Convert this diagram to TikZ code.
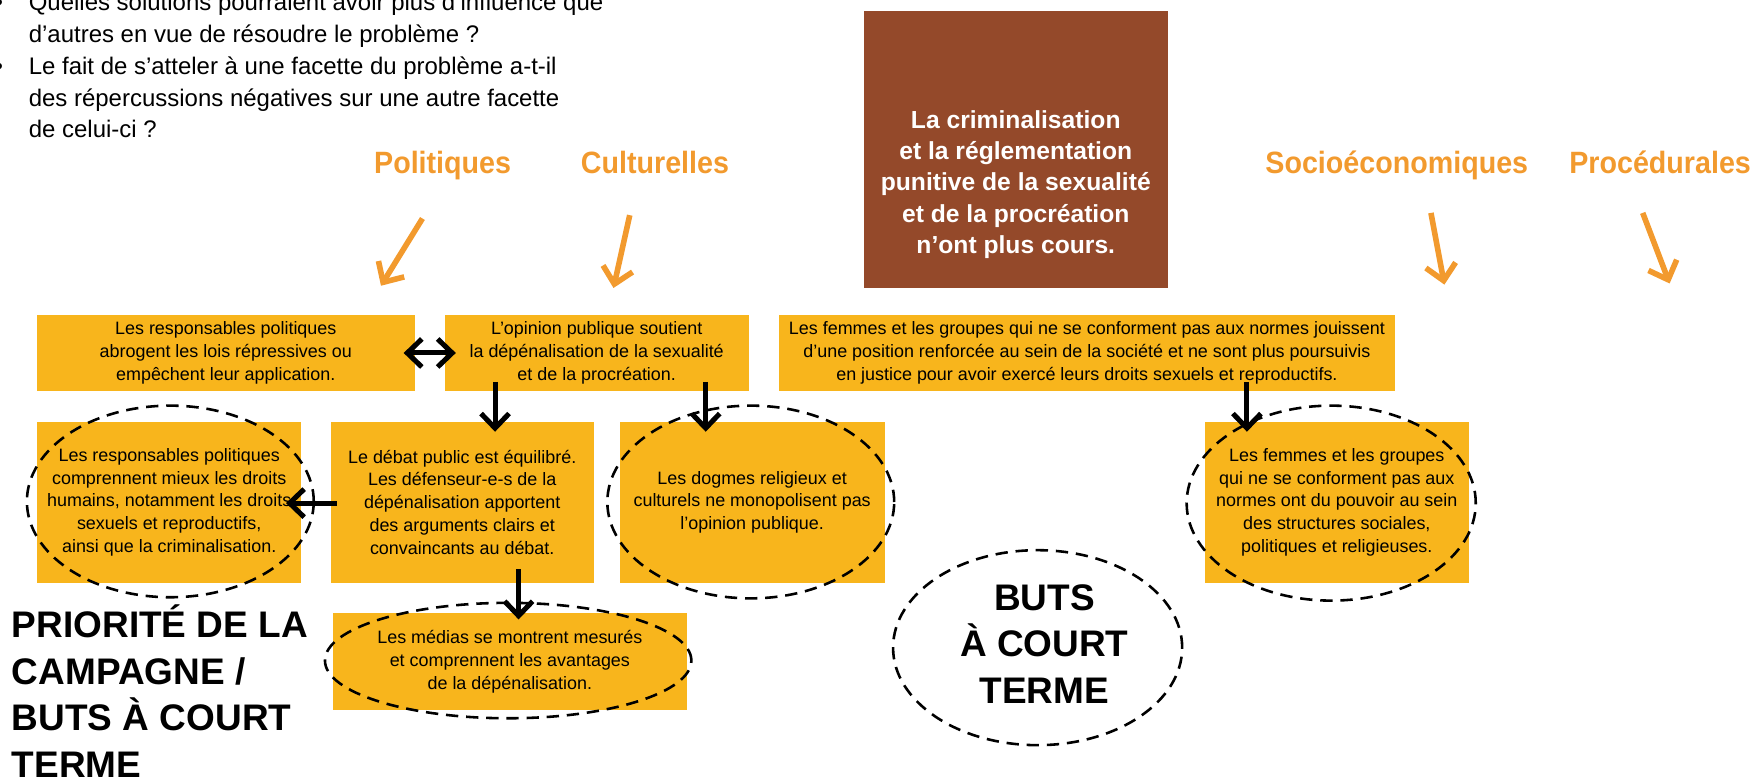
\documentclass[tikz,border=0pt]{standalone}
\usepackage{fontspec}
\setmainfont{Liberation Sans}
\newfontfamily\condfont{Liberation Sans}[FakeStretch=0.93]
\usetikzlibrary{arrows.meta,calc,shapes.geometric}
\definecolor{boxyellow}{HTML}{F8B51C}
\definecolor{labelorange}{HTML}{F29A2E}
\definecolor{brownbox}{HTML}{94492A}
\begin{document}
\begin{tikzpicture}[x=1pt,y=-1pt,
  ybox/.style={fill=boxyellow,inner sep=0pt,align=center,font=\fontsize{16}{20.4}\selectfont},
  goal/.style={ellipse,draw=black,line width=2.3pt,dash pattern=on 11pt off 7pt,inner sep=0pt},
  blkarrow/.style={draw=black,line width=4.5pt,-{Straight Barb[length=13pt,width=25pt]}},
  blkdouble/.style={draw=black,line width=4.5pt,{Straight Barb[length=13pt,width=25pt]}-{Straight Barb[length=13pt,width=25pt]}},
  orarrow/.style={draw=labelorange,line width=5pt,-{Straight Barb[length=14pt,width=27pt]}},
  cat/.style={text=labelorange,font=\condfont\bfseries\fontsize{27.5}{33}\selectfont,anchor=base,inner sep=0pt},
  qtext/.style={font=\fontsize{21.4}{28}\selectfont,anchor=base west,inner sep=0pt},
  btext/.style={text=white,font=\bfseries\fontsize{22}{28}\selectfont,anchor=base,inner sep=0pt},
  bigtext/.style={font=\bfseries\fontsize{33}{41.6}\selectfont,inner sep=0pt}]
\useasboundingbox (0,0) rectangle (1568,698);
\clip (0,0) rectangle (1568,698);

% questions at top left
\node[qtext] (d1) at (-5,9.5) {•};
\node[qtext] (q1) at (25.5,9.5) {Quelles solutions pourraient avoir plus d’influence que};
\node[qtext] (q2) at (25.5,38) {d’autres en vue de résoudre le problème ?};
\node[qtext] (d3) at (-5,66.5) {•};
\node[qtext] (q3) at (25.5,66.5) {Le fait de s’atteler à une facette du problème a-t-il};
\node[qtext] (q4) at (25.5,95) {des répercussions négatives sur une autre facette};
\node[qtext] (q5) at (25.5,123) {de celui-ci ?};

% goal box
\node[fill=brownbox,minimum width=271pt,minimum height=247pt,inner sep=0pt] (goalbox) at (906.5,133.5) {};
\node[btext] (g1) at (906.5,114.5) {La criminalisation};
\node[btext] (g2) at (906.5,142.4) {et la réglementation};
\node[btext] (g3) at (906.5,170.3) {punitive de la sexualité};
\node[btext] (g4) at (906.5,198.2) {et de la procréation};
\node[btext] (g5) at (906.5,226.1) {n’ont plus cours.};

% category labels
\node[cat] (lpol) at (395,154.7) {Politiques};
\node[cat] (lcul) at (584.5,154.7) {Culturelles};
\node[cat] (lsoc) at (1246.5,154.7) {Socioéconomiques};
\node[cat] (lpro) at (1481.5,154.7) {Procédurales};

\coordinate (o1s) at (377,195);   \coordinate (o1e) at (340,255);
\coordinate (o2s) at (562,192);   \coordinate (o2e) at (547.5,257);
\coordinate (o3s) at (1277,190);  \coordinate (o3e) at (1289,254);
\coordinate (o4s) at (1466,190);  \coordinate (o4e) at (1490,253);
\draw[orarrow] (o1s) -- (o1e);
\draw[orarrow] (o2s) -- (o2e);
\draw[orarrow] (o3s) -- (o3e);
\draw[orarrow] (o4s) -- (o4e);

% boxes row 1
\node[ybox,minimum width=337pt,minimum height=68pt] (b1) at (201.5,315)
  {Les responsables politiques\\abrogent les lois répressives ou\\empêchent leur application.};
\node[ybox,minimum width=271pt,minimum height=68pt] (b2) at (532.5,315)
  {L’opinion publique soutient\\la dépénalisation de la sexualité\\et de la procréation.};
\node[ybox,minimum width=550pt,minimum height=68pt] (b3) at (970,315)
  {Les femmes et les groupes qui ne se conforment pas aux normes jouissent\\d’une position renforcée au sein de la société et ne sont plus poursuivis\\en justice pour avoir exercé leurs droits sexuels et reproductifs.};

% boxes row 2
\node[ybox,minimum width=236pt,minimum height=143.5pt] (b4) at (151,448.25)
  {Les responsables politiques\\comprennent mieux les droits\\humains, notamment les droits\\sexuels et reproductifs,\\ainsi que la criminalisation.};
\node[ybox,minimum width=235pt,minimum height=143.5pt] (b5) at (412.5,448.25)
  {Le débat public est équilibré.\\Les défenseur-e-s de la\\dépénalisation apportent\\des arguments clairs et\\convaincants au débat.};
\node[ybox,minimum width=236.5pt,minimum height=143.5pt] (b6) at (671.25,448.25)
  {Les dogmes religieux et\\culturels ne monopolisent pas\\l’opinion publique.};
\node[ybox,minimum width=236pt,minimum height=143.5pt] (b8) at (1193,448.25)
  {Les femmes et les groupes\\qui ne se conforment pas aux\\normes ont du pouvoir au sein\\des structures sociales,\\politiques et religieuses.};
\node[ybox,minimum width=316pt,minimum height=87pt] (b7) at (455,590.5)
  {Les médias se montrent mesurés\\et comprennent les avantages\\de la dépénalisation.};

% dashed ellipses
\node[goal,minimum width=256pt,minimum height=171pt] (e1) at (152,447.5) {};
\node[goal,minimum width=256pt,minimum height=172pt] (e2) at (670,448) {};
\node[goal,minimum width=258pt,minimum height=174pt] (e5) at (1188,449) {};
\node[goal,minimum width=327pt,minimum height=103pt] (e3) at (453.5,589.5) {};
\node[goal,minimum width=258pt,minimum height=174pt] (e4) at (926,578) {};

% arrows
\draw[blkdouble] ([xshift=-10pt]b1.east) -- ([xshift=10pt]b2.west);
\draw[blkarrow] ($(b2.south west)+(45,-8.4)$) -- ($(b5.north west)+(147,9)$);
\draw[blkarrow] ($(b2.south west)+(233,-8.4)$) -- ($(b6.north west)+(77,9)$);
\draw[blkarrow] ($(b5.west)+(6,0.75)$) -- ($(b4.east)+(-14,0.75)$);
\draw[blkarrow] ($(b5.south west)+(168,-12)$) -- ($(b7.north west)+(166,6)$);
\draw[blkarrow] ($(b3.south west)+(418,-8.4)$) -- ($(b8.north west)+(38,9)$);

% big texts
\node[bigtext,anchor=base west] (p1) at (10.5,569) {PRIORITÉ DE LA};
\node[bigtext,anchor=base west] (p2) at (10.5,610.5) {CAMPAGNE /};
\node[bigtext,anchor=base west] (p3) at (10.5,652) {BUTS À COURT};
\node[bigtext,anchor=base west] (p4) at (10.5,693.5) {TERME};

\node[bigtext,anchor=base] (t1) at (932,544.4) {BUTS};
\node[bigtext,anchor=base] (t2) at (932,586) {À COURT};
\node[bigtext,anchor=base] (t3) at (932,627.6) {TERME};
\end{tikzpicture}
\end{document}
